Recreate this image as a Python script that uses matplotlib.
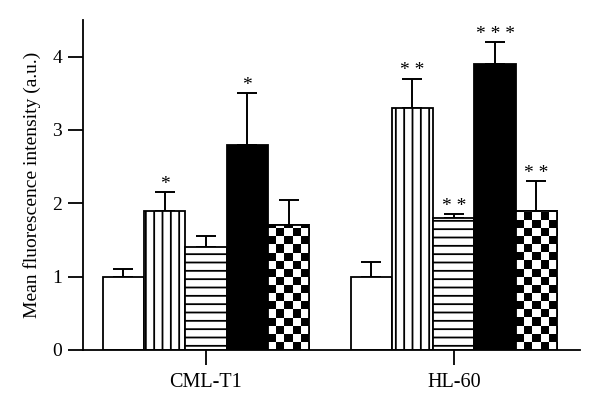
import numpy as np
import matplotlib.pyplot as plt

plt.rcParams['font.family'] = ['Liberation Serif', 'DejaVu Serif']
plt.rcParams['hatch.linewidth'] = 1.3

groups = ['CML-T1', 'HL-60']
cml_means = [1.0, 1.9, 1.4, 2.8, 1.7]
cml_errs = [0.1, 0.25, 0.15, 0.7, 0.35]
hl_means = [1.0, 3.3, 1.8, 3.9, 1.9]
hl_errs = [0.2, 0.4, 0.05, 0.3, 0.4]
cml_stars = ['', '*', '', '*', '']
hl_stars = ['', '* *', '* *', '* * *', '* *']

# bar styles: (face, hatch)
styles = [('white', None), ('white', '||'), ('white', '--'), ('black', None), ('checker', None)]

fig = plt.figure(figsize=(6.0, 4.16), dpi=100)
ax = fig.add_axes([0.138, 0.159, 0.829, 0.793])

group_pos = np.array([0.0, 6.0])
offsets = np.arange(5) - 2
xlim = (-2.98, 9.06)
ylim = (0, 4.5)
ax.set_xlim(*xlim)
ax.set_ylim(*ylim)

# size of a checker square, in data units (about 8 px)
bbox = ax.get_window_extent()
px_x = bbox.width / (xlim[1] - xlim[0])
px_y = bbox.height / (ylim[1] - ylim[0])
cell_w = 8.1 / px_x
cell_h = 8.1 / px_y

all_means = [cml_means, hl_means]
all_errs = [cml_errs, hl_errs]
all_stars = [cml_stars, hl_stars]

for g in range(2):
    xs = group_pos[g] + offsets
    means = all_means[g]
    errs = all_errs[g]
    for i in range(5):
        face, hatch = styles[i]
        fc = 'white' if face == 'checker' else face
        rect = ax.bar(xs[i], means[i], width=1.0, color=fc, edgecolor='black',
                      linewidth=1.3, hatch=hatch, zorder=2)[0]
        if face == 'checker':
            x0 = xs[i] - 0.5
            ncol = int(np.ceil(1.0 / cell_w))
            nrow = int(np.ceil(means[i] / cell_h))
            board = (np.indices((nrow, ncol)).sum(axis=0) % 2).astype(float)
            im = ax.imshow(board, cmap='gray_r', origin='lower', interpolation='nearest',
                           extent=(x0, x0 + ncol * cell_w, 0, nrow * cell_h),
                           aspect='auto', zorder=2.5)
            im.set_clip_path(rect)
            ax.bar(xs[i], means[i], width=1.0, color='none', edgecolor='black',
                   linewidth=1.3, zorder=3)
    ax.errorbar(xs, means, yerr=[np.zeros(5), errs], fmt='none', ecolor='black',
                elinewidth=1.4, capsize=7.2, capthick=1.4, zorder=1.5)
    for i in range(5):
        if all_stars[g][i]:
            ax.text(xs[i], means[i] + errs[i] - 0.01, all_stars[g][i], ha='center',
                    va='bottom', fontsize=14)

ax.set_xlim(*xlim)
ax.set_ylim(*ylim)
ax.set_xticks(group_pos)
ax.set_xticklabels(groups, fontsize=14.5)
ax.set_yticks([0, 1, 2, 3, 4])
ax.tick_params(axis='y', labelsize=14, length=11, width=1.3, pad=4)
ax.tick_params(axis='x', length=11, width=1.3, pad=6)
ax.set_ylabel('Mean fluorescence intensity (a.u.)', fontsize=14, labelpad=8)

for s in ['top', 'right']:
    ax.spines[s].set_visible(False)
for s in ['left', 'bottom']:
    ax.spines[s].set_linewidth(1.3)

fig.savefig('out.png', dpi=100)
